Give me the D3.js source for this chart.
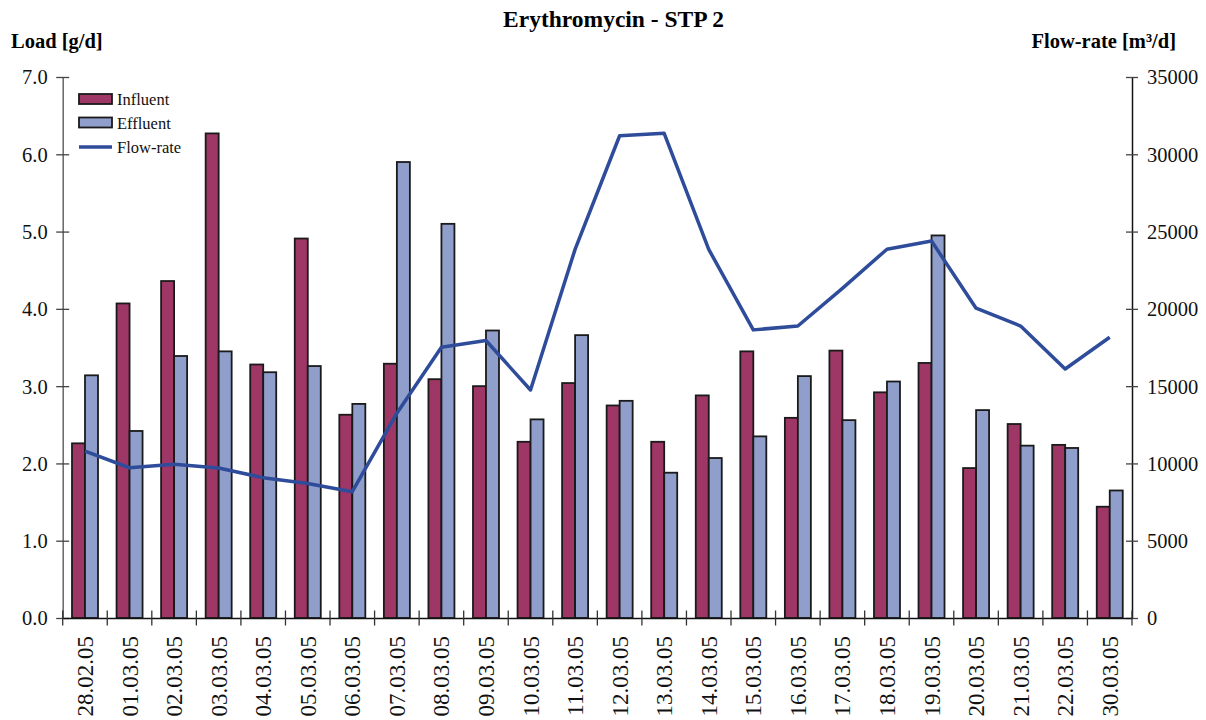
<!DOCTYPE html>
<html>
<head>
<meta charset="utf-8">
<script src="https://cdn.jsdelivr.net/npm/d3@7"></script>
<style>
  html, body { margin: 0; padding: 0; background: #fff; }
  svg { display: block; font-family: "Liberation Serif", "Times New Roman", serif; }
</style>
</head>
<body>
<svg id="chart" width="1206" height="720"></svg>
<script>
// Sampling dates
const dates = ["28.02.05","01.03.05","02.03.05","03.03.05","04.03.05","05.03.05","06.03.05",
  "07.03.05","08.03.05","09.03.05","10.03.05","11.03.05","12.03.05","13.03.05","14.03.05",
  "15.03.05","16.03.05","17.03.05","18.03.05","19.03.05","20.03.05","21.03.05","22.03.05","30.03.05"];

// Erythromycin loads [g/d]
const influent = [2.26,4.07,4.36,6.27,3.28,4.91,2.63,3.29,3.09,3.00,2.28,3.04,2.75,2.28,2.88,
  3.45,2.59,3.46,2.92,3.30,1.94,2.51,2.24,1.44];
const effluent = [3.14,2.42,3.39,3.45,3.18,3.26,2.77,5.90,5.10,3.72,2.57,3.66,2.81,1.88,2.07,
  2.35,3.13,2.56,3.06,4.95,2.69,2.23,2.20,1.65];

// Flow-rate [m³/d]
const flowRate = [10800,9720,9940,9700,9080,8700,8170,13250,17520,17950,14750,23850,31200,31360,
  23850,18640,18890,21330,23860,24390,20040,18890,16110,18160];

// Axis ticks
const loadTicks = [0,1,2,3,4,5,6,7];
const flowTicks = [0,5000,10000,15000,20000,25000,30000,35000];

const seriesNames = ["Influent","Effluent"];
const colors = { Influent: "#9E3766", Effluent: "#8F9ECB", flow: "#2E4C9A" };
const serif = "Liberation Serif, Times New Roman, serif";

const svg = d3.select("#chart");
const plotLeft = 62.7, plotRight = 1132, plotTop = 77, plotBottom = 618;

const x = d3.scaleBand().domain(dates).range([plotLeft, plotRight]).padding(0);
const xs = d3.scaleBand().domain(seriesNames).range([9.3, 35.3]).padding(0);
const yL = d3.scaleLinear().domain([0, 7]).range([plotBottom, plotTop]);
const yR = d3.scaleLinear().domain([0, 35000]).range([plotBottom, plotTop]);

// Title and axis titles
svg.append("text").attr("x", 613.5).attr("y", 27).attr("text-anchor", "middle")
  .attr("font-weight", "bold").attr("font-size", 23.5).attr("fill", "#000")
  .text("Erythromycin - STP 2");
svg.append("text").attr("x", 11).attr("y", 48).attr("font-weight", "bold")
  .attr("font-size", 20.5).attr("fill", "#000").text("Load [g/d]");
svg.append("text").attr("x", 1176).attr("y", 48).attr("text-anchor", "end")
  .attr("font-weight", "bold").attr("font-size", 20.5).attr("fill", "#000")
  .text("Flow-rate [m³/d]");

// Bars
const groups = svg.append("g").selectAll("g").data(dates).join("g")
  .attr("transform", d => `translate(${x(d)},0)`);
groups.selectAll("rect")
  .data((d, i) => [{ s: "Influent", v: influent[i] }, { s: "Effluent", v: effluent[i] }])
  .join("rect")
  .attr("x", d => xs(d.s))
  .attr("y", d => yL(d.v))
  .attr("width", xs.bandwidth())
  .attr("height", d => plotBottom - yL(d.v))
  .attr("fill", d => colors[d.s])
  .attr("stroke", "#1a1a1a")
  .attr("stroke-width", 1.8);

// Flow-rate line
const line = d3.line()
  .x((d, i) => x(dates[i]) + x.bandwidth() / 2)
  .y(d => yR(d));
svg.append("path").datum(flowRate)
  .attr("d", line)
  .attr("fill", "none")
  .attr("stroke", colors.flow)
  .attr("stroke-width", 3.5)
  .attr("stroke-linejoin", "round");

// Left axis
const axL = svg.append("g").attr("transform", `translate(${plotLeft},0)`)
  .call(d3.axisLeft(yL).tickValues(loadTicks).tickFormat(d3.format(".1f")).tickSize(0).tickPadding(15))
  .attr("font-family", serif);
axL.select(".domain").attr("stroke", "#666").attr("stroke-width", 1.5);
axL.selectAll(".tick line").attr("x1", -6.5).attr("x2", 6.5).attr("stroke", "#444").attr("stroke-width", 1.3);
axL.selectAll(".tick text").attr("font-size", 20.5).attr("fill", "#111").attr("dy", "0.34em");

// Right axis
const axR = svg.append("g").attr("transform", `translate(${plotRight},0)`)
  .call(d3.axisRight(yR).tickValues(flowTicks).tickFormat(d3.format("d")).tickSize(0).tickPadding(15))
  .attr("font-family", serif);
axR.select(".domain").attr("stroke", "#111").attr("stroke-width", 1.5);
axR.selectAll(".tick line").attr("x1", -6).attr("x2", 6).attr("stroke", "#444").attr("stroke-width", 1.3);
axR.selectAll(".tick text").attr("font-size", 20.5).attr("fill", "#111").attr("dy", "0.34em");

// Category axis
const axB = svg.append("g").attr("transform", `translate(0,${plotBottom})`)
  .call(d3.axisBottom(x).tickSize(0).tickSizeOuter(0))
  .attr("font-family", serif);
axB.select(".domain").attr("stroke", "#111").attr("stroke-width", 1.5);
axB.selectAll(".tick").remove();
const catTicks = x.domain().map(d => x(d)).concat([plotRight]);
axB.selectAll("line.cat").data(catTicks).join("line").attr("class", "cat")
  .attr("x1", d => d).attr("x2", d => d).attr("y1", -7.5).attr("y2", 7.5)
  .attr("stroke", "#333").attr("stroke-width", 1.3);
axB.selectAll("text.cat").data(dates).join("text").attr("class", "cat")
  .attr("transform", d => `translate(${x(d) + x.bandwidth() / 2 + 8},18) rotate(-90)`)
  .attr("text-anchor", "end")
  .attr("font-family", serif)
  .attr("font-size", 23).attr("fill", "#111")
  .text(d => d);

// Legend
const legend = svg.append("g").attr("transform", "translate(79,94)");
seriesNames.forEach((s, i) => {
  legend.append("rect").attr("x", 0).attr("y", i * 23.5).attr("width", 33).attr("height", 10)
    .attr("fill", colors[s]).attr("stroke", "#1a1a1a").attr("stroke-width", 1.8);
  legend.append("text").attr("x", 38).attr("y", i * 23.5 + 11).attr("font-size", 16.5)
    .attr("fill", "#111").text(s);
});
legend.append("line").attr("x1", 0).attr("x2", 33).attr("y1", 53).attr("y2", 53)
  .attr("stroke", colors.flow).attr("stroke-width", 3.5);
legend.append("text").attr("x", 38).attr("y", 58.5).attr("font-size", 16.5)
  .attr("fill", "#111").text("Flow-rate");
</script>
</body>
</html>
